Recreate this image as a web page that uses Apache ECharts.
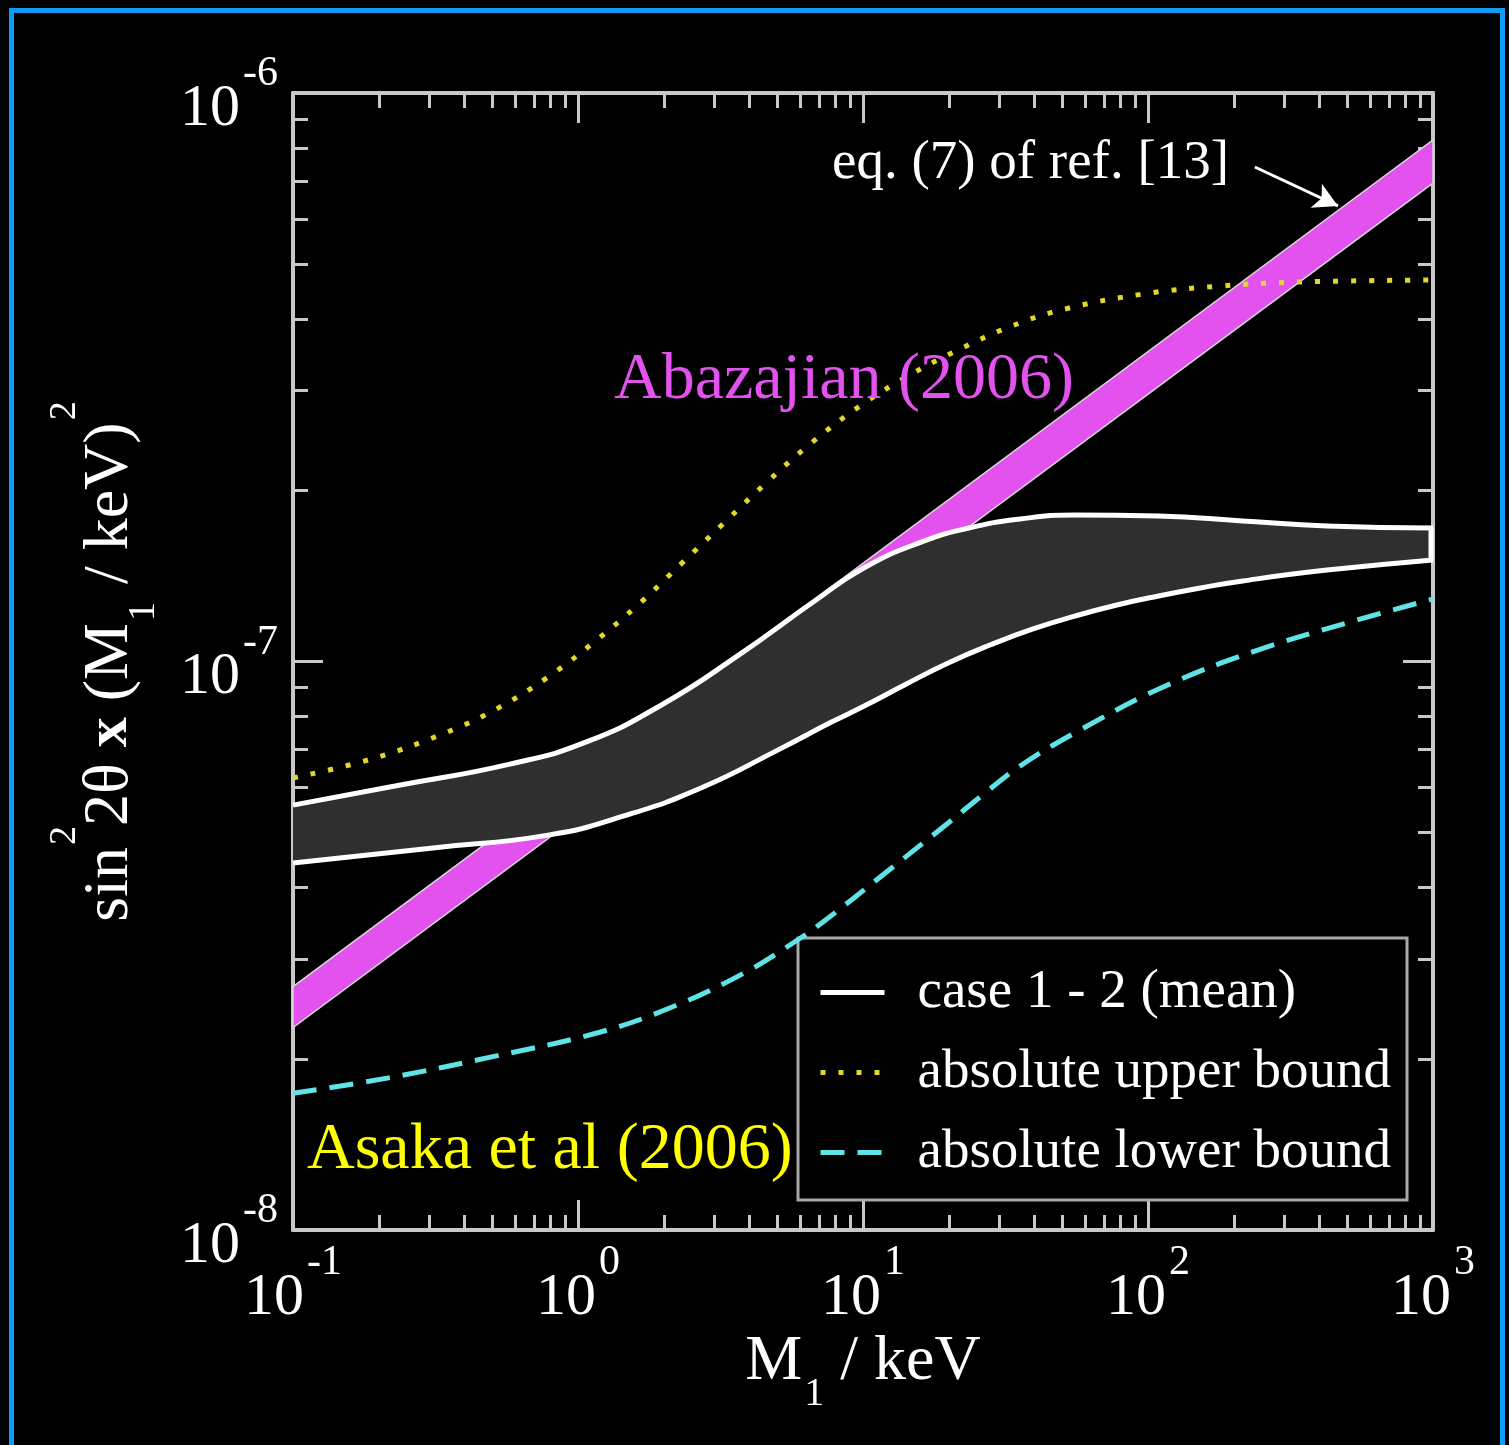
<!DOCTYPE html>
<html>
<head>
<meta charset="utf-8">
<title>sin^2 2θ x (M1/keV)^2 vs M1</title>
<script src="https://cdn.jsdelivr.net/npm/echarts@6/dist/echarts.min.js"></script>
<style>
html, body { margin: 0; padding: 0; background: #000; }
#chart { width: 1509px; height: 1445px; }
</style>
</head>
<body>
<div id="chart"></div>
<script>
// values, [M1 in keV, sin^2 2theta x (M1/keV)^2]
var eqSevenUpper = [[0.1, 2.68e-8], [1000, 8.27e-7]];
var eqSevenLower = [[0.1, 2.27e-8], [1000, 6.94e-7]];

var caseUpper = [[0.1, 5.59e-8], [0.228, 6.04e-8], [0.577, 6.60e-8], [1.07, 7.22e-8], [1.99, 8.42e-8],
    [3.67, 1.027e-7], [6.84, 1.283e-7], [10.1, 1.462e-7], [15.9, 1.62e-7], [23.5, 1.717e-7],
    [35.6, 1.781e-7], [55.4, 1.81e-7], [109, 1.803e-7], [215, 1.767e-7], [425, 1.731e-7], [1000, 1.717e-7]];
var caseLower = [[0.1, 4.42e-8], [0.31, 4.70e-8], [0.785, 4.95e-8], [1.45, 5.35e-8], [2.7, 5.99e-8],
    [5.12, 7.02e-8], [7.66, 7.80e-8], [10.1, 8.35e-8], [14.2, 9.13e-8], [19.9, 9.94e-8],
    [27.9, 1.069e-7], [39.5, 1.141e-7], [55.4, 1.202e-7], [77.8, 1.257e-7], [109, 1.304e-7],
    [153, 1.347e-7], [215, 1.386e-7], [425, 1.448e-7], [1000, 1.509e-7]];

var upperBound = [[0.1, 6.24e-8], [0.189, 6.74e-8], [0.342, 7.49e-8], [0.524, 8.28e-8], [0.785, 9.39e-8],
    [1.14, 1.082e-7], [1.65, 1.267e-7], [2.32, 1.491e-7], [3.25, 1.752e-7], [4.57, 2.061e-7],
    [6.52, 2.413e-7], [9.76, 2.815e-7], [14.6, 3.191e-7], [21.9, 3.545e-7], [33.3, 3.893e-7],
    [51.2, 4.17e-7], [96, 4.43e-7], [180, 4.576e-7], [342, 4.651e-7], [1000, 4.689e-7]];
var lowerBound = [[0.1, 1.74e-8], [0.214, 1.85e-8], [0.507, 2.02e-8], [1.2, 2.23e-8], [2.15, 2.47e-8],
    [3.82, 2.83e-8], [5.91, 3.24e-8], [7.18, 3.47e-8], [12, 4.25e-8], [19.9, 5.2e-8],
    [26.8, 5.87e-8], [35.6, 6.55e-8], [55.4, 7.49e-8], [113, 9.02e-8], [237, 1.043e-7],
    [511, 1.173e-7], [1000, 1.288e-7]];

var arrowFrom = [237, 7.41e-7];
var arrowTo = [464, 6.33e-7];

var xMajor = [0.1, 1, 10, 100, 1000];
var xMinor = [0.2, 0.3, 0.4, 0.5, 0.6, 0.7, 0.8, 0.9,
    2, 3, 4, 5, 6, 7, 8, 9,
    20, 30, 40, 50, 60, 70, 80, 90,
    200, 300, 400, 500, 600, 700, 800, 900];
var yMajor = [1e-8, 1e-7, 1e-6];
var yMinor = [2e-8, 3e-8, 4e-8, 5e-8, 6e-8, 7e-8, 8e-8, 9e-8,
    2e-7, 3e-7, 4e-7, 5e-7, 6e-7, 7e-7, 8e-7, 9e-7];

var FONT = '"Liberation Serif", "DejaVu Serif", serif';
var AXIS_COLOR = '#c8c8c8';
var WHITE = '#ffffff';
var MAGENTA = '#e352ef';

function tickLabel(v) {
    var e = Math.round(Math.log(v) / Math.LN10);
    return '{b|10}{s|' + e + '}';
}
var tickRich = {
    b: { fontFamily: FONT, fontSize: 60, lineHeight: 80, color: WHITE, verticalAlign: 'top', padding: [26, 0, 0, 0] },
    s: { fontFamily: FONT, fontSize: 42, lineHeight: 42, color: WHITE, verticalAlign: 'top', padding: [0, 0, 0, 3] }
};

function majorAxis(pos, withLabel) {
    var vertical = pos === 'left' || pos === 'right';
    return {
        type: 'log', logBase: 10, position: pos,
        min: vertical ? 1e-8 : 0.1,
        max: vertical ? 1e-6 : 1000,
        axisLine: { show: true, lineStyle: { color: AXIS_COLOR, width: 4 } },
        axisTick: {
            show: true, inside: true, length: 30,
            customValues: vertical ? yMajor : xMajor,
            lineStyle: { color: AXIS_COLOR, width: 3 }
        },
        axisLabel: withLabel ? {
            show: true,
            customValues: vertical ? yMajor : xMajor,
            formatter: tickLabel,
            rich: tickRich,
            margin: vertical ? 15 : 12,
            showMinLabel: true, showMaxLabel: true
        } : { show: false },
        splitLine: { show: false },
        minorTick: { show: false }
    };
}
function minorAxis(pos) {
    var vertical = pos === 'left' || pos === 'right';
    return {
        type: 'log', logBase: 10, position: pos,
        min: vertical ? 1e-8 : 0.1,
        max: vertical ? 1e-6 : 1000,
        axisLine: { show: false },
        axisTick: {
            show: true, inside: true, length: 15,
            customValues: vertical ? yMinor : xMinor,
            lineStyle: { color: AXIS_COLOR, width: 3 }
        },
        axisLabel: { show: false },
        splitLine: { show: false }
    };
}

var xBottom = majorAxis('bottom', true);
xBottom.name = '{b|M}{sub|1}{b| / keV}';
xBottom.nameLocation = 'middle';
xBottom.nameGap = 100;
xBottom.nameMoveOverlap = false;
xBottom.nameTextStyle = {
    rich: {
        b: { fontFamily: FONT, fontSize: 64, lineHeight: 64, color: WHITE, verticalAlign: 'top' },
        sub: { fontFamily: FONT, fontSize: 40, lineHeight: 40, color: WHITE, verticalAlign: 'top', padding: [44, 0, 0, 2] }
    }
};

var yLeft = majorAxis('left', true);
yLeft.name = '{b|sin}{sup|2}{b|2θ }{x|x}{b| (M}{sub|1}{b| / keV)}{sup|2}';
yLeft.nameLocation = 'middle';
yLeft.nameRotate = 90;
yLeft.nameGap = 183;
yLeft.nameMoveOverlap = false;
yLeft.nameTextStyle = {
    rich: {
        b: { fontFamily: FONT, fontSize: 64, lineHeight: 64, color: WHITE, verticalAlign: 'top', padding: [32, 0, 0, 0] },
        x: { fontFamily: FONT, fontSize: 60, fontWeight: 'bold', lineHeight: 60, color: WHITE, verticalAlign: 'top', padding: [34, 0, 0, 0] },
        sup: { fontFamily: FONT, fontSize: 38, lineHeight: 38, color: WHITE, verticalAlign: 'top', padding: [0, 0, 0, 2] },
        sub: { fontFamily: FONT, fontSize: 38, lineHeight: 38, color: WHITE, verticalAlign: 'top', padding: [79, 2, 0, 2] }
    }
};

var option = {
    backgroundColor: '#000',
    animation: false,
    textStyle: { fontFamily: FONT },
    grid: { left: 293, top: 93, right: 76, bottom: 215, containLabel: false },
    xAxis: [xBottom, minorAxis('bottom'), majorAxis('top', false), minorAxis('top')],
    yAxis: [yLeft, minorAxis('left'), majorAxis('right', false), minorAxis('right')],
    legend: {
        left: 798, top: 938,
        orient: 'vertical',
        backgroundColor: '#000',
        borderColor: '#a8a8a8',
        borderWidth: 3,
        borderRadius: 0,
        padding: [27, 16, 20, 20],
        itemGap: 25,
        itemWidth: 64,
        itemHeight: 20,
        selectedMode: false,
        itemStyle: { opacity: 0 },
        lineStyle: { width: 'inherit', type: 'inherit', color: 'inherit' },
        textStyle: { color: WHITE, fontFamily: FONT, fontSize: 55, lineHeight: 55, padding: [0, 0, 0, 28] },
        data: ['case 1 - 2 (mean)', 'absolute upper bound', 'absolute lower bound']
    },
    graphic: [
        {
            type: 'rect', silent: true, z: 100,
            shape: { x: 11.5, y: 10.5, width: 1491, height: 1460 },
            style: { fill: 'none', stroke: '#109cf5', lineWidth: 5 }
        },
        {
            type: 'text', left: 832, top: 136, z: 50,
            style: { text: 'eq. (7) of ref. [13]', fill: WHITE, font: '55px ' + FONT }
        },
        {
            type: 'text', left: 614, top: 348, z: 50,
            style: { text: 'Abazajian (2006)', fill: MAGENTA, font: '66px ' + FONT }
        },
        {
            type: 'text', left: 307, top: 1118, z: 50,
            style: { text: 'Asaka et al (2006)', fill: '#ffff00', font: '66px ' + FONT }
        }
    ],
    series: [
        {
            name: 'eq7 band',
            type: 'custom',
            z: 1,
            silent: true,
            data: [[1, 1e-7]],
            renderItem: function (params, api) {
                var pts = eqSevenUpper.map(function (p) { return api.coord(p); })
                    .concat(eqSevenLower.slice().reverse().map(function (p) { return api.coord(p); }));
                return {
                    type: 'polygon',
                    shape: { points: pts },
                    style: { fill: MAGENTA, stroke: '#d8d8d8', lineWidth: 1.5 }
                };
            }
        },
        {
            name: 'case band',
            type: 'custom',
            z: 3,
            silent: true,
            data: [[1, 1e-7]],
            renderItem: function (params, api) {
                var pts = caseUpper.map(function (p) { return api.coord(p); })
                    .concat(caseLower.slice().reverse().map(function (p) { return api.coord(p); }));
                var a = api.coord(caseUpper[caseUpper.length - 1]);
                var b = api.coord(caseLower[caseLower.length - 1]);
                return {
                    type: 'group',
                    children: [
                        { type: 'polygon', shape: { points: pts }, style: { fill: '#2f2f2f' } },
                        { type: 'line', shape: { x1: a[0] - 2, y1: a[1], x2: b[0] - 2, y2: b[1] }, style: { stroke: WHITE, lineWidth: 5 } }
                    ]
                };
            }
        },
        {
            name: 'case 1 - 2 (mean)',
            type: 'line',
            z: 4,
            data: caseUpper,
            smooth: 0.5,
            showSymbol: false,
            symbol: 'none',
            lineStyle: { color: WHITE, width: 5 },
            itemStyle: { color: WHITE }
        },
        {
            name: 'case 1 - 2 lower',
            type: 'line',
            z: 4,
            data: caseLower,
            smooth: 0.5,
            showSymbol: false,
            symbol: 'none',
            lineStyle: { color: WHITE, width: 5 },
            itemStyle: { color: WHITE }
        },
        {
            name: 'absolute upper bound',
            type: 'line',
            z: 5,
            data: upperBound,
            smooth: 0.4,
            showSymbol: false,
            symbol: 'none',
            lineStyle: { color: '#e0d82a', width: 5, type: [5, 13] },
            itemStyle: { color: '#e0d82a' }
        },
        {
            name: 'absolute lower bound',
            type: 'line',
            z: 5,
            data: lowerBound,
            smooth: 0.4,
            showSymbol: false,
            symbol: 'none',
            lineStyle: { color: '#5fe3e6', width: 5, type: [24, 13] },
            itemStyle: { color: '#5fe3e6' },
            markLine: {
                silent: true,
                symbol: ['none', 'arrow'],
                symbolSize: [20, 24],
                label: { show: false },
                lineStyle: { color: WHITE, width: 3, type: 'solid' },
                data: [[{ coord: arrowFrom }, { coord: arrowTo }]]
            }
        }
    ]
};

var chart = echarts.init(document.getElementById('chart'), null, { renderer: 'canvas' });
chart.setOption(option);
</script>
</body>
</html>
